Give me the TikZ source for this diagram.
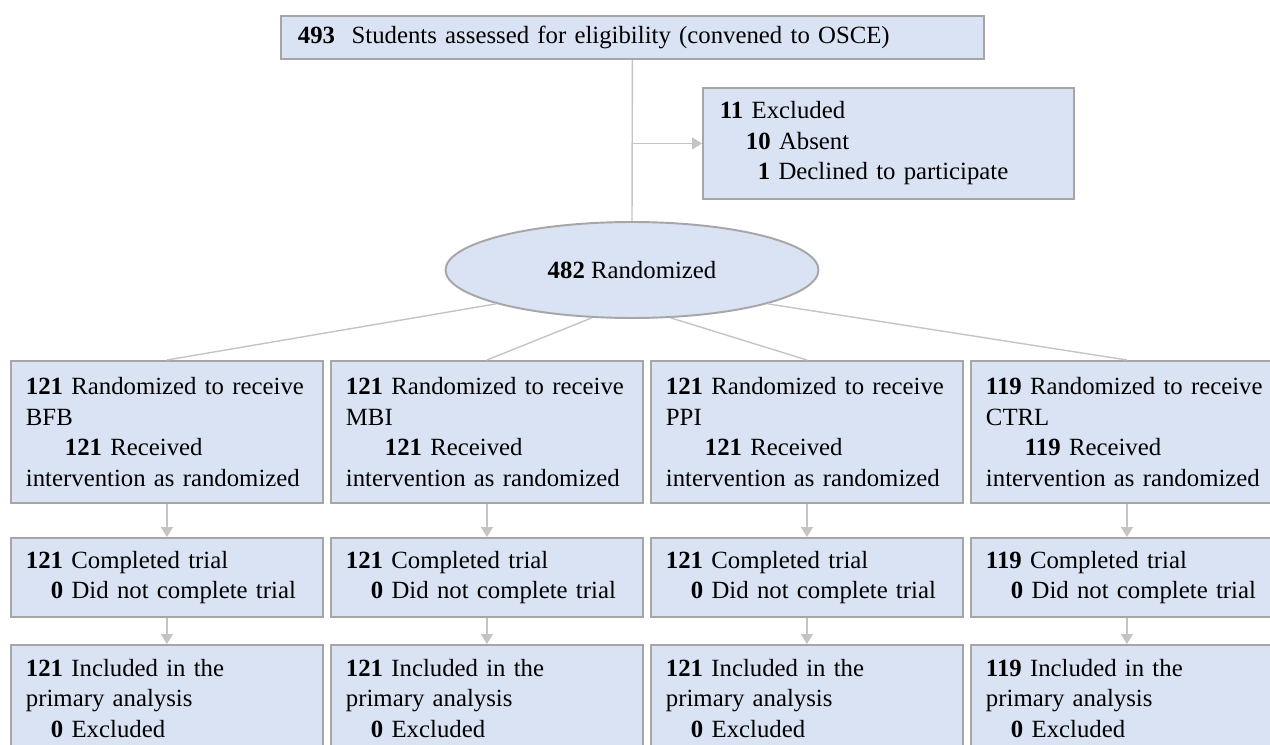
\documentclass[tikz,border=0pt]{standalone}
\usepackage{fontspec}
\setmainfont{Liberation Serif}
\usetikzlibrary{arrows.meta,shapes.geometric}
\definecolor{boxfill}{HTML}{DAE3F3}
\definecolor{boxline}{HTML}{A6A6A6}
\definecolor{linkline}{HTML}{C4C4C4}

\begin{document}
\begin{tikzpicture}[x=0.02cm,y=-0.02cm,
  every node/.style={font=\fontsize{14.1}{17.4}\selectfont},
  block/.style={rectangle,draw=boxline,fill=boxfill,line width=1.1pt,align=left,inner xsep=0.34cm,inner ysep=0pt,anchor=north west},
  colbox/.style={block,inner xsep=0.3cm,minimum width=6.24cm,text width=5.64cm},
  link/.style={draw=linkline,line width=0.8pt},
  arr/.style={link,-{Triangle[width=0.24cm,length=0.2cm]}}]
\def\rowA{360}
\def\rowB{537}
\def\rowC{644}
\useasboundingbox (0,0) rectangle (1270,744);
% top of the chart
\node[block,minimum width=14.06cm,minimum height=0.86cm,text width=13.38cm] (elig) at (280,15)
  {\textbf{493}\ \ Students assessed for eligibility (convened to OSCE)};
\node[block,minimum width=7.42cm,minimum height=2.22cm,text width=6.74cm] (excl) at (702,87)
  {\textbf{11} Excluded\\\hspace*{0.52cm}\textbf{10} Absent\\\hspace*{0.76cm}\textbf{1} Declined to participate};
\node[ellipse,draw=boxline,fill=boxfill,line width=1.1pt,minimum width=7.46cm,minimum height=1.92cm,inner sep=0pt] (rand) at (632,270)
  {\textbf{482} Randomized};
% allocation
\node[colbox,minimum height=2.84cm] (alloc1) at (10,\rowA)
  {\textbf{121} Randomized to receive\\BFB\\\hspace*{0.78cm}\textbf{121} Received\\intervention as randomized};
\node[colbox,minimum height=2.84cm] (alloc2) at (330,\rowA)
  {\textbf{121} Randomized to receive\\MBI\\\hspace*{0.78cm}\textbf{121} Received\\intervention as randomized};
\node[colbox,minimum height=2.84cm] (alloc3) at (650,\rowA)
  {\textbf{121} Randomized to receive\\PPI\\\hspace*{0.78cm}\textbf{121} Received\\intervention as randomized};
\node[colbox,minimum height=2.84cm] (alloc4) at (970,\rowA)
  {\textbf{119} Randomized to receive\\CTRL\\\hspace*{0.78cm}\textbf{119} Received\\intervention as randomized};
% follow up
\node[colbox,minimum height=1.58cm] (follow1) at (10,\rowB)
  {\textbf{121} Completed trial\\\hspace*{0.5cm}\textbf{0} Did not complete trial};
\node[colbox,minimum height=1.58cm] (follow2) at (330,\rowB)
  {\textbf{121} Completed trial\\\hspace*{0.5cm}\textbf{0} Did not complete trial};
\node[colbox,minimum height=1.58cm] (follow3) at (650,\rowB)
  {\textbf{121} Completed trial\\\hspace*{0.5cm}\textbf{0} Did not complete trial};
\node[colbox,minimum height=1.58cm] (follow4) at (970,\rowB)
  {\textbf{119} Completed trial\\\hspace*{0.5cm}\textbf{0} Did not complete trial};
% analysis
\node[colbox,minimum height=2.14cm] (anal1) at (10,\rowC)
  {\textbf{121} Included in the\\primary analysis\\\hspace*{0.5cm}\textbf{0} Excluded};
\node[colbox,minimum height=2.14cm] (anal2) at (330,\rowC)
  {\textbf{121} Included in the\\primary analysis\\\hspace*{0.5cm}\textbf{0} Excluded};
\node[colbox,minimum height=2.14cm] (anal3) at (650,\rowC)
  {\textbf{121} Included in the\\primary analysis\\\hspace*{0.5cm}\textbf{0} Excluded};
\node[colbox,minimum height=2.14cm] (anal4) at (970,\rowC)
  {\textbf{119} Included in the\\primary analysis\\\hspace*{0.5cm}\textbf{0} Excluded};
% connectors
\coordinate (split) at (elig.south |- excl.west);
\draw[link] (elig.south) -- (rand.north);
\draw[arr] (split) -- (excl.west);
\draw[link] (rand.194) -- (alloc1.north);
\draw[link] (rand.230) -- (alloc2.north);
\draw[link] (rand.309) -- (alloc3.north);
\draw[link] (rand.346) -- (alloc4.north);
\draw[arr] (alloc1.south) -- (follow1.north);
\draw[arr] (alloc2.south) -- (follow2.north);
\draw[arr] (alloc3.south) -- (follow3.north);
\draw[arr] (alloc4.south) -- (follow4.north);
\draw[arr] (follow1.south) -- (anal1.north);
\draw[arr] (follow2.south) -- (anal2.north);
\draw[arr] (follow3.south) -- (anal3.north);
\draw[arr] (follow4.south) -- (anal4.north);
\end{tikzpicture}
\end{document}
